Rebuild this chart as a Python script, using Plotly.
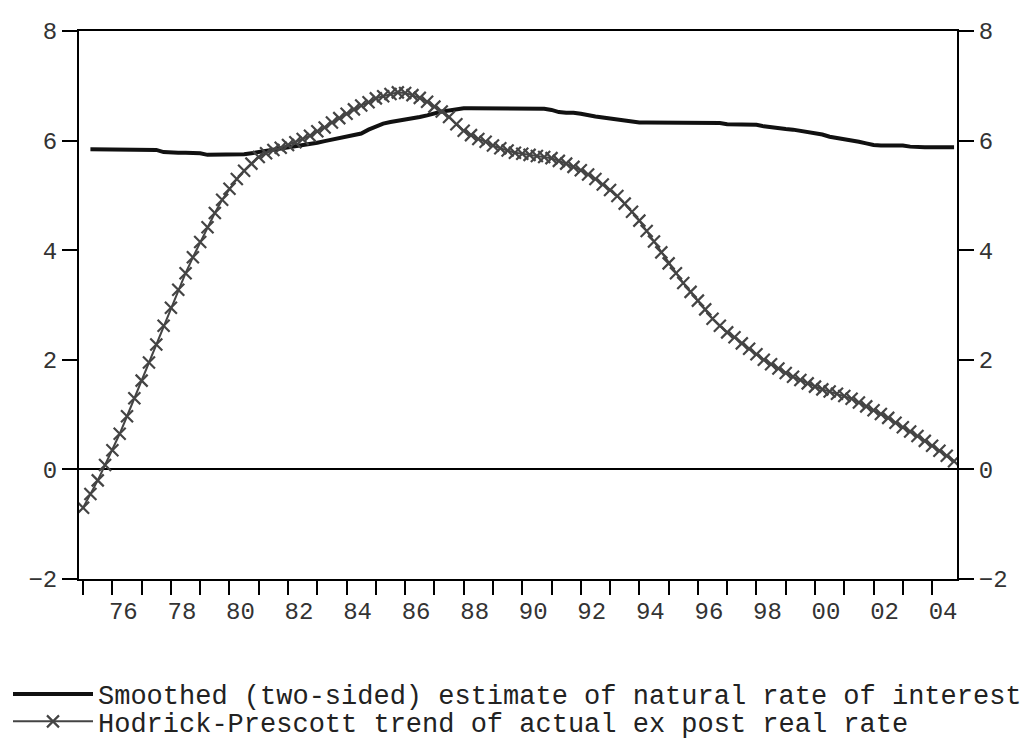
import plotly.graph_objects as go

years = list(range(1975, 2005))
quarters = [y + q / 4 for y in years for q in range(4)]

hp_trend = [
    -0.70, -0.45, -0.20, 0.08,
    0.35, 0.65, 0.97, 1.30,
    1.62, 1.95, 2.28, 2.62,
    2.95, 3.28, 3.58, 3.87,
    4.15, 4.42, 4.68, 4.92,
    5.12, 5.30, 5.45, 5.58,
    5.70, 5.77, 5.83, 5.87,
    5.92, 5.97, 6.03, 6.09,
    6.17, 6.24, 6.33, 6.41,
    6.49, 6.57, 6.64, 6.70,
    6.77, 6.81, 6.85, 6.88,
    6.87, 6.83, 6.78, 6.71,
    6.62, 6.53, 6.43, 6.30,
    6.18, 6.10, 6.03, 5.98,
    5.91, 5.86, 5.82, 5.78,
    5.76, 5.74, 5.72, 5.70,
    5.68, 5.63, 5.58, 5.52,
    5.46, 5.38, 5.30, 5.20,
    5.10, 4.99, 4.85, 4.70,
    4.54, 4.35, 4.16, 3.96,
    3.76, 3.58, 3.40, 3.24,
    3.08, 2.92, 2.75, 2.62,
    2.50, 2.41, 2.30, 2.20,
    2.10, 2.00, 1.92, 1.84,
    1.76, 1.69, 1.63, 1.57,
    1.51, 1.46, 1.42, 1.38,
    1.34, 1.29, 1.22, 1.15,
    1.08, 1.01, 0.94, 0.85,
    0.77, 0.69, 0.61, 0.52,
    0.43, 0.34, 0.25, 0.15,
]

natural_rate = [
    None, 5.84, 5.84, 5.84,
    5.84, 5.84, 5.84, 5.84,
    5.84, 5.84, 5.83, 5.79,
    5.78, 5.78, 5.78, 5.78,
    5.77, 5.74, 5.74, 5.74,
    5.74, 5.74, 5.75, 5.77,
    5.79, 5.81, 5.84, 5.86,
    5.88, 5.89, 5.91, 5.93,
    5.96, 5.99, 6.02, 6.04,
    6.07, 6.10, 6.13, 6.20,
    6.26, 6.31, 6.34, 6.36,
    6.38, 6.40, 6.43, 6.46,
    6.50, 6.53, 6.55, 6.57,
    6.59, 6.59, 6.59, 6.59,
    6.59, 6.59, 6.59, 6.59,
    6.59, 6.59, 6.59, 6.58,
    6.56, 6.52, 6.51, 6.51,
    6.49, 6.46, 6.44, 6.42,
    6.40, 6.38, 6.36, 6.34,
    6.33, 6.33, 6.33, 6.33,
    6.33, 6.33, 6.33, 6.33,
    6.33, 6.33, 6.33, 6.32,
    6.30, 6.30, 6.30, 6.30,
    6.29, 6.26, 6.24, 6.22,
    6.21, 6.20, 6.18, 6.16,
    6.14, 6.11, 6.07, 6.05,
    6.03, 6.00, 5.98, 5.95,
    5.92, 5.91, 5.91, 5.91,
    5.91, 5.89, 5.88, 5.88,
    5.88, 5.88, 5.88, 5.88,
]

label_years = list(range(1976, 2005, 2))
tick_labels = [f"{y % 100:02d}" for y in label_years]
y_ticks = [-2, 0, 2, 4, 6, 8]

name_nat = "Smoothed (two-sided) estimate of natural rate of interest"
name_hp = "Hodrick-Prescott trend of actual ex post real rate"

x_range = [1974.86, 2004.85]

fig = go.Figure()
fig.add_trace(go.Scatter(
    x=quarters, y=natural_rate, mode="lines", name=name_nat,
    line=dict(color="#111111", width=4), legend="legend",
))
fig.add_trace(go.Scatter(
    x=quarters, y=hp_trend, mode="lines+markers", name=name_hp,
    line=dict(color="#444444", width=2),
    marker=dict(symbol="x-thin", size=12, color="#444444",
                line=dict(width=2.2, color="#444444")),
    legend="legend2",
))
# invisible helper traces to activate the label axis and the right axis
fig.add_trace(go.Scatter(x=[quarters[0]], y=[0], xaxis="x2", mode="markers",
                         marker=dict(opacity=0), showlegend=False, hoverinfo="skip"))
fig.add_trace(go.Scatter(x=[quarters[0]], y=[0], yaxis="y2", mode="markers",
                         marker=dict(opacity=0), showlegend=False, hoverinfo="skip"))

tick_font = dict(family="Liberation Mono", size=24, color="#333333")
legend_font = dict(family="Liberation Mono", size=27, color="#222222")

fig.update_layout(
    width=1031, height=742,
    margin=dict(l=71, r=82, t=23, b=171, autoexpand=False),
    paper_bgcolor="white", plot_bgcolor="white",
    xaxis=dict(
        range=x_range, automargin=False,
        tickmode="array", tickvals=years, showticklabels=False,
        ticks="outside", ticklen=14, tickwidth=2, tickcolor="black",
        showgrid=False, zeroline=False,
        showline=True, linecolor="black", linewidth=2, mirror=True,
    ),
    xaxis2=dict(
        range=x_range, automargin=False, overlaying="x", side="bottom", anchor="y",
        tickmode="array",
        tickvals=[y + 0.375 for y in label_years],
        ticktext=tick_labels,
        ticks="outside", ticklen=10, tickcolor="rgba(0,0,0,0)",
        tickfont=tick_font,
        showgrid=False, zeroline=False, showline=False,
    ),
    yaxis=dict(
        range=[-2, 8], automargin=False, tickmode="array", tickvals=y_ticks,
        ticks="outside", ticklen=15, tickwidth=2, tickcolor="black",
        tickfont=tick_font, showgrid=False,
        zeroline=True, zerolinecolor="black", zerolinewidth=2,
        showline=True, linecolor="black", linewidth=2,
    ),
    yaxis2=dict(
        range=[-2, 8], automargin=False, tickmode="array", tickvals=y_ticks,
        overlaying="y", side="right",
        ticks="outside", ticklen=15, tickwidth=2, tickcolor="black",
        tickfont=tick_font, showgrid=False, zeroline=False,
        showline=True, linecolor="black", linewidth=2,
    ),
    showlegend=True,
    legend=dict(
        xref="container", yref="container",
        x=0.0, y=0.108, xanchor="left", yanchor="top",
        font=legend_font, itemwidth=80, bgcolor="rgba(0,0,0,0)",
    ),
    legend2=dict(
        xref="container", yref="container",
        x=0.0, y=0.071, xanchor="left", yanchor="top",
        font=legend_font, itemwidth=80, bgcolor="rgba(0,0,0,0)",
    ),
)

fig.write_html("out.html")
